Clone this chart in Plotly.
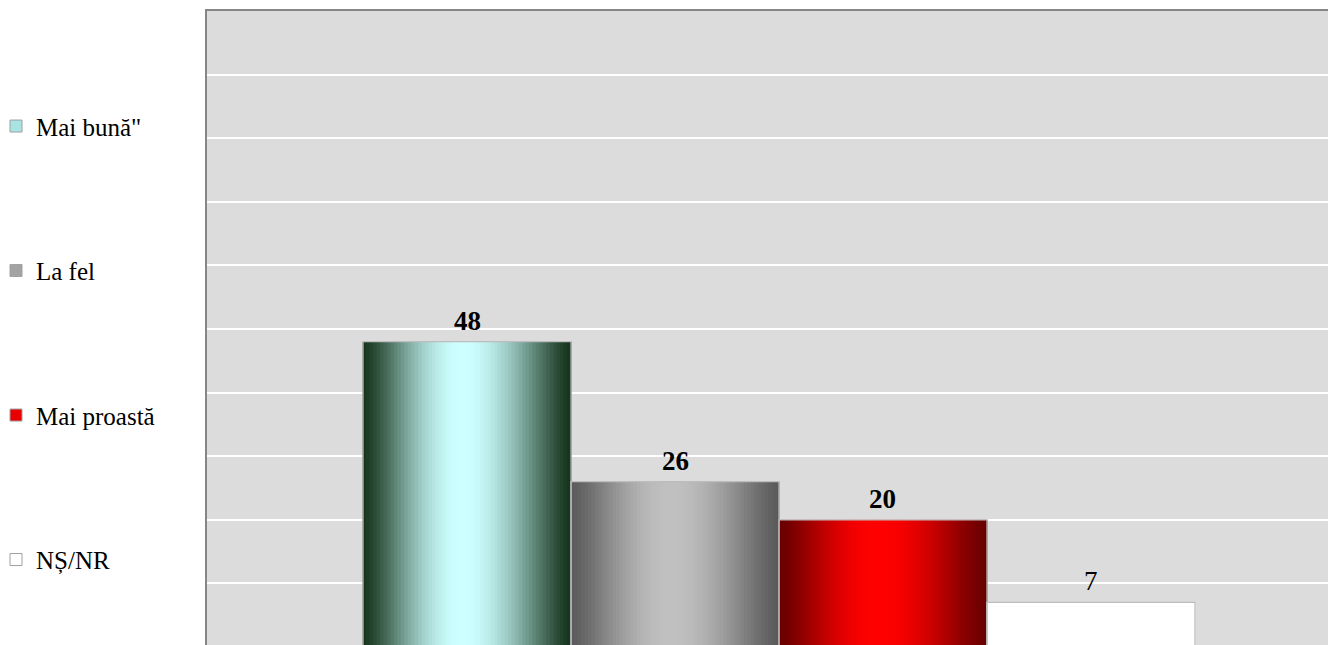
import numpy as np
import plotly.graph_objects as go

# ---- data ----
categories = ['Mai bună"', 'La fel', 'Mai proastă', 'NȘ/NR']
values = [48, 26, 20, 7]
labels = ['48', '26', '20', '7']
label_bold = [True, True, True, False]

# ---- styles ----
edge_colors = ['#16341c', '#5a5a5a', '#680000', '#ffffff']
centre_colors = ['#ccffff', '#c0c0c0', '#ff0000', '#ffffff']
legend_colors = ['#a8e4e2', '#a3a3a3', '#e80000', '#ffffff']
FONT = 'Liberation Serif, Times New Roman, serif'

BAR_W = 0.1818          # bar width in x-axis units
N_SLICES = 60
CENTRE_POS = 0.48

W, H = 1320, 637        # page body has an 8px margin
ML, MT = 199, 3
PX_PER_UNIT = 1144


def hex2rgb(h):
    h = h.lstrip('#')
    return np.array([int(h[i:i + 2], 16) for i in (0, 2, 4)], dtype=float)


def gradient(edge, centre, n):
    e, c = hex2rgb(edge), hex2rgb(centre)
    cols = []
    for k in range(n):
        u = (k + 0.5) / n
        if u <= CENTRE_POS:
            d = u / CENTRE_POS
        else:
            d = (1 - u) / (1 - CENTRE_POS)
        f = np.sin(d * np.pi / 2) ** 1.3
        rgb = e + (c - e) * f
        cols.append('rgb(%d,%d,%d)' % tuple(np.round(rgb).astype(int)))
    return cols


fig = go.Figure()
n = len(categories)
centres = [(i - (n - 1) / 2) * BAR_W for i in range(n)]

for i, (cat, val) in enumerate(zip(categories, values)):
    left = centres[i] - BAR_W / 2
    step = BAR_W / N_SLICES
    xs = [left + (k + 0.5) * step for k in range(N_SLICES)]
    fig.add_trace(go.Bar(
        x=xs, y=[val] * N_SLICES, width=step * 1.25,
        marker=dict(color=gradient(edge_colors[i], centre_colors[i], N_SLICES),
                    line=dict(width=0)),
        showlegend=False, hoverinfo='skip'))

for i, (cat, val) in enumerate(zip(categories, values)):
    fig.add_trace(go.Bar(
        x=[centres[i]], y=[val], width=BAR_W, name=cat,
        marker=dict(color='rgba(0,0,0,0)', line=dict(color='#bdbdbd', width=1.2)),
        showlegend=False))
    fig.add_annotation(
        x=centres[i], y=val, text=labels[i], showarrow=False,
        yanchor='bottom', yshift=4,
        font=dict(family=FONT, size=27, color='black',
                  weight='bold' if label_bold[i] else 'normal'))

for i, cat in enumerate(categories):
    fig.add_trace(go.Bar(
        x=[None], y=[None], name=cat, legendgroup=cat,
        marker=dict(color=legend_colors[i], line=dict(color='#a0a0a0', width=1))))

fig.update_layout(
    width=W, height=H,
    margin=dict(l=ML, r=0, t=MT, b=0, autoexpand=False),
    barmode='overlay',
    paper_bgcolor='white',
    plot_bgcolor='#dcdcdc',
    font=dict(family=FONT, size=25, color='black'),
    showlegend=True,
    legend=dict(
        xref='paper', yref='container', x=-(ML + 12) / (W - ML), y=0.8504,
        xanchor='left', yanchor='top', maxheight=1.0,
        tracegroupgap=109, traceorder='grouped',
        font=dict(family=FONT, size=25, color='black'),
        bgcolor='rgba(0,0,0,0)'),
    xaxis=dict(range=[-0.5, -0.5 + (W - ML) / PX_PER_UNIT], showgrid=False,
               zeroline=False, showticklabels=False, ticks='', side='top',
               showline=True, linecolor='#868686', linewidth=2),
    yaxis=dict(range=[0.31, 100], dtick=10, tick0=0, showgrid=True,
               gridcolor='white', gridwidth=2, zeroline=False,
               showticklabels=False, ticks='',
               showline=True, linecolor='#868686', linewidth=2),
)

fig.write_html('out.html')
